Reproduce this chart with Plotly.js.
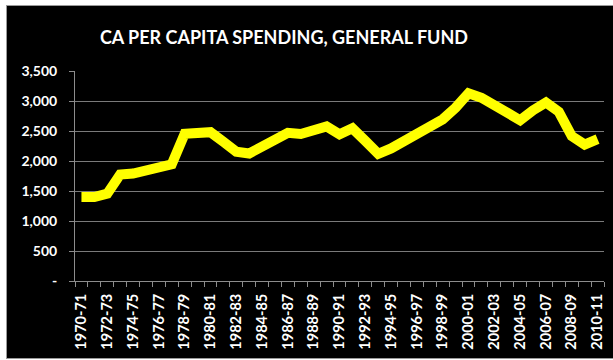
<!DOCTYPE html>
<html>
<head>
<meta charset="utf-8">
<script src="https://cdn.plot.ly/plotly-3.0.1.min.js"></script>
<style>
html,body{margin:0;padding:0;background:#ffffff;width:613px;height:360px;overflow:hidden;}
#frame{position:absolute;left:6px;top:5px;width:607px;height:352px;border-left:1px solid #9a9a9a;border-top:1px solid #9a9a9a;border-bottom:1px solid #9a9a9a;background:#000;}
#chart{position:absolute;left:0;top:0;width:607px;height:352px;}
</style>
</head>
<body>
<div id="frame"><div id="chart"></div></div>
<script>
const categories = ["1970-71","1971-72","1972-73","1973-74","1974-75","1975-76","1976-77","1977-78","1978-79","1979-80",
"1980-81","1981-82","1982-83","1983-84","1984-85","1985-86","1986-87","1987-88","1988-89","1989-90",
"1990-91","1991-92","1992-93","1993-94","1994-95","1995-96","1996-97","1997-98","1998-99","1999-00",
"2000-01","2001-02","2002-03","2003-04","2004-05","2005-06","2006-07","2007-08","2008-09","2009-10","2010-11"];
const spending = [1400,1400,1455,1775,1790,1855,1895,1945,2455,2465,
2480,2320,2155,2125,2230,2375,2470,2450,2525,2575,
2445,2545,2335,2120,2210,2330,2455,2570,2695,2890,
3130,3055,2935,2805,2680,2845,2975,2820,2415,2275,2365];
const yTickVals = [0,500,1000,1500,2000,2500,3000,3500];
const yTickText = ["-","500","1,000","1,500","2,000","2,500","3,000","3,500"];

const idx = categories.map((c,i)=>i);
const xTickVals = idx.filter(i=>i%2===0);
const xTickText = xTickVals.map(i=>categories[i]);

const trace = {
  x: idx, y: spending, type:'scatter', mode:'lines',
  line:{color:'#FFFF00', width:10, shape:'linear'},
  hoverinfo:'skip'
};
const fam = 'Lato, "Open Sans", sans-serif';
const layout = {
  width:607, height:352,
  paper_bgcolor:'#000000', plot_bgcolor:'#000000',
  margin:{l:68, r:10, t:65, b:77},
  showlegend:false,
  title:{text:'CA PER CAPITA SPENDING, GENERAL FUND', font:{family:fam, size:18, color:'#ffffff', weight:'bold'},
    x:277/607, xref:'container', xanchor:'center', y:1-32/352, yref:'container', yanchor:'middle'},
  xaxis:{
    range:[-0.5, 40.5], tickmode:'array', tickvals:xTickVals, ticktext:xTickText,
    tickangle:-90, ticks:'', showgrid:false, zeroline:false,
    showline:true, linecolor:'#8c8c8c', linewidth:1,
    tickfont:{family:fam, color:'#ffffff', size:14.5, weight:'bold'}, ticklabelstandoff:6,
    minor:{tickmode:'linear', tick0:-0.5, dtick:1, ticks:'outside', ticklen:5, tickcolor:'#8c8c8c', showgrid:false}
  },
  yaxis:{
    range:[0,3500], tickmode:'array', tickvals:yTickVals, ticktext:yTickText,
    ticks:'outside', ticklen:5, tickcolor:'#8c8c8c',
    showgrid:true, gridcolor:'#7a7a7a', gridwidth:1, zeroline:false,
    showline:true, linecolor:'#8c8c8c', linewidth:1,
    tickfont:{family:fam, color:'#ffffff', size:14, weight:'bold'}, ticklabelstandoff:9
  }
};
Plotly.newPlot('chart',[trace],layout,{staticPlot:true, displayModeBar:false});
</script>
</body>
</html>
